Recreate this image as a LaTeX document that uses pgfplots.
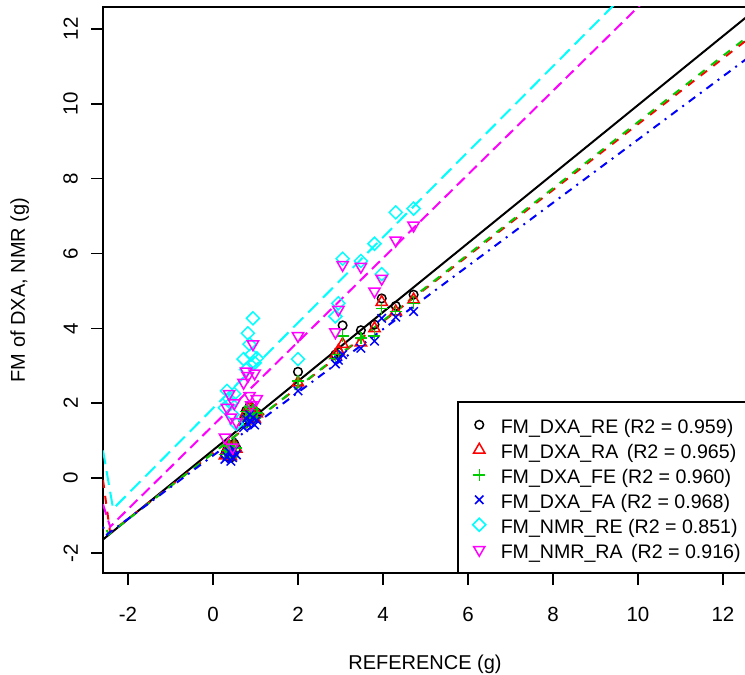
\documentclass[border=0pt]{standalone}
\usepackage{fontspec}
\setmainfont{Liberation Sans}
\usepackage{pgfplots}
\pgfplotsset{compat=1.18}
\usepackage{pgfplotstable}

\definecolor{rred}{HTML}{FF0000}
\definecolor{rgreen}{HTML}{00CD00}
\definecolor{rblue}{HTML}{0000FF}
\definecolor{rcyan}{HTML}{00FFFF}
\definecolor{rmagenta}{HTML}{FF00FF}

% reference vs. estimated fat mass (g)
\pgfplotstableread{
ref  RE   RA   FE   FA   NRE  NRA
0.28 0.62 0.60 0.63 0.50 1.88 1.09
0.33 0.75 0.72 0.74 0.58 2.33 1.88
0.38 0.88 0.85 0.86 0.70 2.12 2.25
0.42 0.55 0.58 0.57 0.45 2.00 1.62
0.46 0.70 0.66 0.69 0.55 1.70 0.82
0.50 0.92 0.88 0.90 0.75 2.25 2.00
0.55 0.80 0.78 0.80 0.62 1.45 1.50
0.72 1.55 1.50 1.52 1.35 3.18 2.55
0.78 1.80 1.75 1.78 1.58 2.90 2.85
0.82 1.65 1.62 1.64 1.45 3.87 2.73
0.86 1.92 1.88 1.90 1.70 3.58 2.20
0.90 1.70 1.68 1.69 1.50 3.30 1.95
0.94 1.85 1.80 1.83 1.62 4.27 3.58
0.98 1.60 1.58 1.60 1.42 3.08 2.80
1.03 1.75 1.72 1.74 1.55 3.20 2.12
2.00 2.84 2.55 2.60 2.33 3.18 3.80
2.88 3.30 3.28 3.20 3.05 4.32 3.90
2.95 3.37 3.40 3.30 3.15 4.67 4.50
3.05 4.08 3.58 3.80 3.30 5.86 5.70
3.48 3.95 3.62 3.74 3.47 5.80 5.65
3.80 4.10 4.00 3.79 3.66 6.26 4.99
3.97 4.80 4.70 4.53 4.27 5.45 5.33
4.30 4.60 4.45 4.45 4.30 7.10 6.35
4.72 4.90 4.77 4.67 4.45 7.20 6.75
}\fmdata

\begin{document}
\begin{tikzpicture}
\begin{axis}[
    at={(0pt,0pt)}, anchor=south west,
    scale only axis,
    width=644pt, height=566pt,
    xmin=-2.588, xmax=12.565,
    ymin=-2.535, ymax=12.586,
    axis line style={line width=1.5pt},
    xtick={-2,0,2,4,6,8,10,12},
    ytick={-2,0,2,4,6,8,10,12},
    xticklabels={-2,0,2,4,6,8,10,12},
    yticklabels={-2,0,2,4,6,8,10,12},
    xtick pos=left, ytick pos=left,
    tick align=outside,
    major tick length=12pt,
    every tick/.style={black, line width=1.5pt},
    tick label style={font=\fontsize{20.5}{24}\selectfont, inner sep=0pt},
    xticklabel style={anchor=north},
    yticklabel style={rotate=90, anchor=south},
    xticklabel shift=22pt,
    yticklabel shift=13pt,
    every axis plot/.append style={line width=1.5pt},
    legend image code/.code={\draw[#1] plot coordinates {(0pt,0pt)};},
    legend cell align=left,
    legend style={
        at={(rel axis cs:0.5497,0)}, anchor=south west,
        draw=black, line width=1.5pt,
        inner xsep=15pt, inner ysep=12pt,
        row sep=4pt, column sep=15pt,
        font=\fontsize{19.6}{24}\selectfont,
        nodes={inner sep=0pt, text height=19pt, text depth=2pt},
    },
]
    \addplot[only marks, black, mark=o, mark size=4.3pt]
        table[x=ref, y=RE] {\fmdata};
    \addlegendentry{FM\_DXA\_RE (R2 = 0.959)}
    \addplot[only marks, rred, mark=triangle, mark size=6.5pt]
        table[x=ref, y=RA] {\fmdata};
    \addlegendentry{FM\_DXA\_RA\hspace{3pt} (R2 = 0.965)}
    \addplot[only marks, rgreen, mark=+, mark size=6pt]
        table[x=ref, y=FE] {\fmdata};
    \addlegendentry{FM\_DXA\_FE (R2 = 0.960)}
    \addplot[only marks, rblue, mark=x, mark size=6pt]
        table[x=ref, y=FA] {\fmdata};
    \addlegendentry{FM\_DXA\_FA (R2 = 0.968)}
    \addplot[only marks, rcyan, mark=square, mark size=4.6pt, mark options={rotate=45}]
        table[x=ref, y=NRE] {\fmdata};
    \addlegendentry{FM\_NMR\_RE (R2 = 0.851)}
    \addplot[only marks, rmagenta, mark=triangle, mark size=6.5pt, mark options={rotate=180}]
        table[x=ref, y=NRA] {\fmdata};
    \addlegendentry{FM\_NMR\_RA\hspace{3pt} (R2 = 0.916)}

    % fitted lines
    \addplot[forget plot, no marks, black, line width=2pt]
        coordinates {(-2.588,-1.64) (12.565,12.33)};
    \addplot[forget plot, no marks, rred, line width=2pt, dash pattern=on 8pt off 8pt]
        coordinates {(-2.588,-0.05) (-2.42,-1.46) (12.565,11.71)};
    \addplot[forget plot, no marks, rgreen, line width=2pt, dash pattern=on 8pt off 8pt, dash phase=8pt]
        coordinates {(-2.588,-1.20) (-2.45,-1.50) (12.565,11.78)};
    \addplot[forget plot, no marks, rblue, line width=2pt, dash pattern=on 2pt off 6pt on 8pt off 6pt]
        coordinates {(-2.588,-1.30) (-2.50,-1.51) (12.565,11.21)};
    \addplot[forget plot, no marks, rcyan, line width=2pt, dash pattern=on 14pt off 7pt]
        coordinates {(-2.588,0.74) (-2.35,-0.82) (11.0,14.43)};
    \addplot[forget plot, no marks, rmagenta, line width=2pt, dash pattern=on 11pt off 6pt]
        coordinates {(-2.588,-0.70) (-2.42,-1.30) (11.0,13.70)};
\end{axis}
\node[rotate=90, anchor=base, font=\fontsize{20}{24}\selectfont]
    at ([xshift=-78pt]current axis.west) {FM of DXA, NMR (g)};
\node[anchor=base, font=\fontsize{20}{24}\selectfont]
    at ([yshift=-96pt]current axis.south) {REFERENCE (g)};
\pgfresetboundingbox
\path[use as bounding box] (-103pt,-102pt) rectangle (642pt,573pt);
\end{tikzpicture}
\end{document}
